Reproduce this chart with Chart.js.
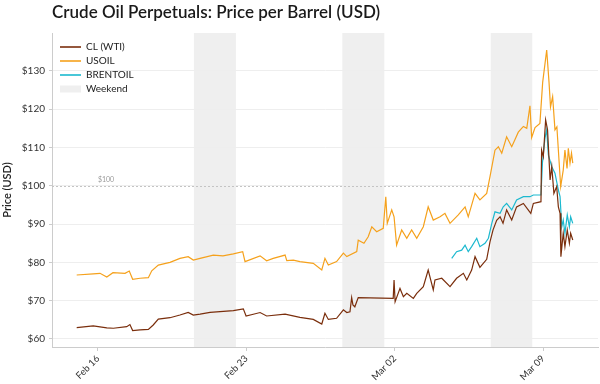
<!DOCTYPE html>
<html><head><meta charset="utf-8">
<script src="https://cdn.jsdelivr.net/npm/chart.js@4.4.1/dist/chart.umd.min.js"></script>
<style>html,body{margin:0;padding:0;background:#fff}#c{display:block}</style>
</head><body>
<canvas id="c" width="600" height="384"></canvas>
<script>
// ---- data (x = days since Feb 16 00:00) ----
const titleText = 'Crude Oil Perpetuals: Price per Barrel (USD)';
const seriesNames = ['CL (WTI)', 'USOIL', 'BRENTOIL'];

const clDays = [-1.00,-0.22,0.42,0.73,1.36,1.51,1.64,1.99,2.38,2.61,2.85,3.40,3.87,4.26,4.50,4.82,5.29,6.39,6.86,6.99,7.65,7.96,8.83,9.53,10.16,10.56,10.71,10.87,11.26,11.58,11.74,11.89,11.97,12.03,12.12,12.28,13.93,13.97,14.02,14.25,14.41,14.57,14.88,15.04,15.35,15.58,15.82,15.90,16.22,16.61,16.92,17.24,17.40,17.63,17.79,18.02,18.34,18.50,18.64,18.81,18.97,19.11,19.28,19.52,19.75,20.07,20.42,20.54,20.90,20.93,21.01,21.12,21.21,21.33,21.41,21.51,21.64,21.72,21.80,21.84,21.95,22.03,22.14,22.24,22.30,22.40];
const clPrice = [62.95,63.4,62.9,62.8,63.2,63.75,62.2,62.35,62.5,63.65,65.2,65.55,66.25,66.95,66.25,66.5,66.95,67.4,67.85,66.0,66.9,66.0,66.5,65.65,65.1,63.9,66.7,65.1,65.4,67.6,66.9,67.1,70.8,68.9,68.4,70.8,70.6,75.4,69.7,73.2,71.05,71.9,70.6,71.9,73.65,78.0,72.8,75.4,75.85,73.65,75.85,77.15,75.4,78.0,81.5,78.7,80.8,85.5,88.5,91.0,91.9,90.2,93.7,91.05,94.5,95.4,92.8,95.4,95.85,109.3,107.6,117.2,114.6,101.5,105.0,98.0,99.8,94.5,92.8,81.5,87.6,84.1,88.45,85.0,87.6,85.85];

const usoilDays = [-1.00,-0.22,0.10,0.42,0.71,1.28,1.48,1.64,1.99,2.38,2.54,2.85,3.40,3.87,4.26,4.50,4.82,5.44,5.90,6.39,6.83,6.94,7.65,7.96,8.27,8.83,8.91,9.22,9.53,10.16,10.56,10.71,10.87,11.26,11.58,11.74,12.21,12.28,12.55,12.75,12.92,13.15,13.46,13.58,13.65,13.86,13.97,14.09,14.33,14.57,14.80,15.04,15.35,15.58,15.82,16.14,16.37,16.61,17.00,17.32,17.47,17.79,18.02,18.34,18.50,18.73,18.89,19.05,19.28,19.52,19.67,19.83,20.07,20.23,20.38,20.46,20.62,20.85,20.98,21.17,21.28,21.35,21.45,21.56,21.65,21.83,21.95,22.03,22.13,22.19,22.27,22.34,22.40];
const usoilPrice = [76.7,77.0,77.15,76.2,77.3,77.15,77.75,75.6,75.85,76.0,77.8,79.3,80.0,81.05,81.5,80.6,81.05,81.9,81.7,82.2,82.8,80.2,81.7,80.4,81.05,81.9,80.45,80.6,80.2,79.75,78.0,81.05,79.3,80.2,82.4,81.5,82.8,85.8,85.0,86.7,89.3,88.0,88.9,97.15,90.2,93.7,91.9,84.5,88.45,86.3,88.45,86.3,89.3,94.5,91.05,91.9,92.8,90.2,92.4,94.5,91.9,98.0,96.3,98.0,102.5,109.3,110.2,108.5,112.8,110.2,112.0,114.0,115.5,115.0,120.9,112.6,115.2,116.3,127.0,135.45,127.0,120.6,123.3,114.6,115.4,99.8,104.1,109.3,104.5,109.8,105.9,108.5,105.9];

const brentDays = [16.69,16.92,17.16,17.32,17.47,17.63,17.87,18.02,18.26,18.42,18.58,18.73,18.97,19.12,19.28,19.52,19.75,20.07,20.38,20.54,20.90,20.97,21.09,21.17,21.25,21.41,21.56,21.72,21.80,21.88,21.95,22.03,22.14,22.24,22.30,22.40];
const brentPrice = [81.05,82.8,83.2,84.5,82.8,84.1,86.3,84.1,85.0,86.3,90.2,93.2,92.8,94.5,95.4,93.7,96.3,97.15,97.15,97.6,97.6,106.0,112.5,114.6,108.0,105.0,103.3,98.9,97.15,89.3,91.05,87.6,92.4,89.3,91.9,90.2];

const weekendStart = [4.53, 11.53, 18.53];
const weekendEnd   = [6.51, 13.51, 20.49];
const weekendLabel = 'Weekend';

const xTickDays = [0, 7, 14, 21];
const xTickLabels = ['Feb 16', 'Feb 23', 'Mar 02', 'Mar 09'];
const yTickValues = [60, 70, 80, 90, 100, 110, 120, 130];
const refValue = 100;
const refLabel = '$100';
const refLabelDay = 0;

// ---- styling ----
const FONT = "Lato, 'Noto Sans', sans-serif";
const CL_COLOR = '#7a2e0c';
const US_COLOR = '#f5a11c';
const BR_COLOR = '#1cb9cf';
const WEEKEND_COLOR = '#efefef';
const X_MIN = -2.165, X_MAX = 23.59;
const Y_MIN = 57.9, Y_MAX = 139.9;

Chart.defaults.font.family = FONT;
Chart.defaults.color = '#333';

const toPts = (t, v) => t.map((d, i) => ({x: d, y: v[i]}));

const weekendPlugin = {
  id: 'weekends',
  beforeDraw(chart) {
    const {ctx, chartArea: a, scales: {x}} = chart;
    ctx.save();
    ctx.fillStyle = WEEKEND_COLOR;
    weekendStart.forEach((s, i) => {
      const x0 = x.getPixelForValue(s), x1 = x.getPixelForValue(weekendEnd[i]);
      ctx.fillRect(x0, a.top, x1 - x0, a.bottom - a.top);
    });
    ctx.restore();
  }
};
const refLinePlugin = {
  id: 'refline',
  beforeDatasetsDraw(chart) {
    const {ctx, chartArea: a, scales: {x, y}} = chart;
    const py = Math.round(y.getPixelForValue(refValue)) + 0.5;
    ctx.save();
    ctx.strokeStyle = '#c4c4c4'; ctx.lineWidth = 1; ctx.setLineDash([2, 2]);
    ctx.beginPath(); ctx.moveTo(a.left, py); ctx.lineTo(a.right, py); ctx.stroke();
    ctx.setLineDash([]);
    ctx.fillStyle = '#999'; ctx.font = '7px ' + FONT; ctx.textAlign = 'left'; ctx.textBaseline = 'alphabetic';
    ctx.fillText(refLabel, x.getPixelForValue(refLabelDay), py - 4.5);
    ctx.restore();
  }
};
// place title and legend relative to the plot area
const placeBoxes = {
  id: 'placeBoxes',
  afterLayout(chart) {
    const a = chart.chartArea;
    if (chart.legend) {
      chart.legend.left = a.left + 4;
      chart.legend.top = a.top + 5;
    }
    if (chart.titleBlock) {
      const w = chart.titleBlock.right - chart.titleBlock.left;
      chart.titleBlock.left = a.left;
      chart.titleBlock.right = a.left + Math.max(w, a.right - a.left);
    }
  }
};

new Chart(document.getElementById('c'), {
  type: 'line',
  data: {
    datasets: [
      {label: seriesNames[0], data: toPts(clDays, clPrice), borderColor: CL_COLOR, backgroundColor: CL_COLOR, borderWidth: 1.2, pointRadius: 0, tension: 0},
      {label: seriesNames[1], data: toPts(usoilDays, usoilPrice), borderColor: US_COLOR, backgroundColor: US_COLOR, borderWidth: 1.2, pointRadius: 0, tension: 0},
      {label: seriesNames[2], data: toPts(brentDays, brentPrice), borderColor: BR_COLOR, backgroundColor: BR_COLOR, borderWidth: 1.2, pointRadius: 0, tension: 0}
    ]
  },
  options: {
    responsive: false,
    animation: false,
    events: [],
    layout: {padding: {right: 2, top: 0, left: 0, bottom: 0}},
    scales: {
      x: {
        type: 'linear', min: X_MIN, max: X_MAX,
        afterBuildTicks: s => { s.ticks = xTickDays.map(v => ({value: v})); },
        ticks: {
          callback: v => { const i = xTickDays.indexOf(v); return i >= 0 ? xTickLabels[i] : ''; },
          maxRotation: 45, minRotation: 45, autoSkip: false,
          font: {size: 9.5}, color: '#333', padding: 2
        },
        grid: {drawOnChartArea: false, drawTicks: true, tickLength: 4, color: '#cccccc'},
        border: {color: '#cccccc'},
        afterFit: s => { s.height = 37; }
      },
      y: {
        type: 'linear', min: Y_MIN, max: Y_MAX,
        afterBuildTicks: s => { s.ticks = yTickValues.map(v => ({value: v})); },
        ticks: {callback: v => '$' + v, font: {size: 10}, color: '#333', padding: 4},
        grid: {color: '#eeeeee', tickColor: '#cccccc', tickLength: 3},
        border: {color: '#cccccc'},
        title: {display: true, text: 'Price (USD)', font: {size: 11, weight: '600'}, color: '#222', padding: {top: 1, bottom: 0}},
        afterFit: s => { s.width = 52; }
      }
    },
    plugins: {
      title: {
        display: true, text: titleText, align: 'start', fullSize: false,
        font: {size: 17, weight: '600', lineHeight: 1.2}, color: '#1a1a1a',
        padding: {top: 2, bottom: 10.6}
      },
      legend: {
        position: 'chartArea', align: 'start',
        labels: {
          usePointStyle: true, pointStyleWidth: 21, boxHeight: 7, padding: 4,
          font: {size: 10}, color: '#222',
          generateLabels: () => [
            {text: seriesNames[0], strokeStyle: CL_COLOR, fillStyle: CL_COLOR, lineWidth: 1.6, pointStyle: 'line', hidden: false, datasetIndex: 0, fontColor: '#222'},
            {text: seriesNames[1], strokeStyle: US_COLOR, fillStyle: US_COLOR, lineWidth: 1.6, pointStyle: 'line', hidden: false, datasetIndex: 1, fontColor: '#222'},
            {text: seriesNames[2], strokeStyle: BR_COLOR, fillStyle: BR_COLOR, lineWidth: 1.6, pointStyle: 'line', hidden: false, datasetIndex: 2, fontColor: '#222'},
            {text: weekendLabel, strokeStyle: WEEKEND_COLOR, fillStyle: WEEKEND_COLOR, lineWidth: 0, pointStyle: 'rect', hidden: false, fontColor: '#222'}
          ]
        }
      },
      tooltip: {enabled: false}
    }
  },
  plugins: [weekendPlugin, refLinePlugin, placeBoxes]
});
</script></body></html>
